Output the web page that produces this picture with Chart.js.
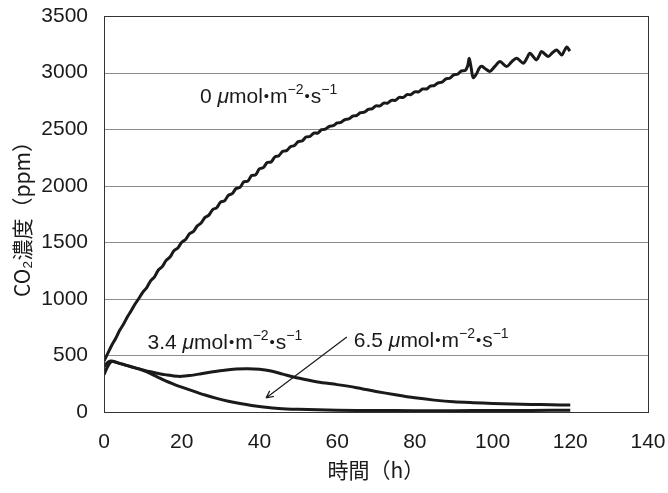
<!DOCTYPE html>
<html>
<head>
<meta charset="utf-8">
<script src="https://cdn.jsdelivr.net/npm/chart.js@4.4.1/dist/chart.umd.min.js"></script>
<style>
  body { margin: 0; background: #fff; }
</style>
</head>
<body>
<canvas id="co2Chart" width="668" height="493"></canvas>
<script>
// 📌 Series (time in h, CO2 in ppm)
const hours0 = [0,1,2,3,4,5,6,7,8,9,10,11,12,13,14,15,16,17,18,19,20,21,22,23,24,25,26,27,28,29,30,31,32,33,34,35,36,37,38,39,40,41,42,43,44,45,46,47,48,49,50,51,52,53,54,55,56,57,58,59,60,61,62,63,64,65,66,67,68,69,70,71,72,73,74,75,76,77,78,79,80,81,82,83,84,85,86,87,88,89,90,91,92,93,93.6,94,94.5,95,95.8,96.6,97.2,98.3,99.3,100.6,101.9,103.6,104.9,106.2,107.9,108.8,109.6,111.3,112,112.6,114.3,115.4,116.5,117.8,118.5,119.1,119.9];
const ppm0 = [450,520,590,650,720,775,840,895,955,1005,1060,1100,1160,1195,1255,1285,1340,1370,1425,1450,1500,1525,1575,1595,1645,1670,1720,1740,1790,1805,1855,1865,1915,1930,1975,1985,2035,2040,2090,2095,2150,2160,2205,2210,2255,2265,2305,2310,2345,2355,2390,2395,2430,2435,2465,2465,2495,2500,2525,2530,2555,2560,2585,2590,2615,2620,2645,2650,2675,2680,2705,2705,2730,2730,2755,2755,2780,2780,2805,2805,2830,2830,2855,2855,2880,2885,2910,2915,2945,2950,2980,2985,3015,3020,3060,3125,3040,2955,2985,3040,3055,3030,3010,3055,3098,3053,3095,3127,3083,3125,3171,3112,3150,3186,3142,3175,3200,3156,3195,3225,3190];

const hours34 = [0,1,2,4,6,8,10,12,14,16,18,20,22,25,28,31,34,37,40,43,46,50,55,60,65,70,75,80,85,90,95,100,105,110,115,120];
const ppm34 = [400,440,450,430,410,390,372,355,340,328,318,315,322,338,355,370,380,383,378,362,335,300,265,242,215,182,152,125,105,90,82,76,71,67,64,62];

const hours65 = [0,1,2,4,6,8,10,12,14,16,18,20,23,26,29,32,35,38,41,45,50,55,60,70,80,90,100,110,120];
const ppm65 = [330,405,445,430,410,390,368,340,305,272,245,220,185,150,120,95,75,58,45,32,24,19,16,13,12,12,13,14,15];

const xTicks = [0, 20, 40, 60, 80, 100, 120, 140];
const yTicks = [0, 500, 1000, 1500, 2000, 2500, 3000, 3500];

// 📌 Curve labels (light intensity) and the arrow for 6.5
const curveLabels = ["0", "3.4", "6.5"];
const labelAt = [[24.7, 2729], [11.2, 557], [64.3, 577]];
const arrowFrom = [62.5, 663];
const arrowTo = [41.7, 124];

const FONT = "'Liberation Sans', Arial, sans-serif";
const CJK = "'Noto Sans CJK JP', 'Liberation Sans', sans-serif";
const INK = "#1a1a1a";
const CLEAR = "rgba(0,0,0,0)";

function toPoints(xs, ys) {
  return xs.map((x, i) => ({ x: x, y: ys[i] }));
}

// ✅ Draw "μmol·m-2·s-1" with superscripts
function drawUnitLabel(ctx, x, y, lead) {
  const parts = [
    [lead + " ", "n"], ["μ", "i"], ["mol", "n"], ["•", "d"], ["m", "n"],
    ["−2", "s"], ["•", "d"], ["s", "n"], ["−1", "s"]
  ];
  ctx.save();
  ctx.fillStyle = INK;
  ctx.textBaseline = "alphabetic";
  ctx.textAlign = "left";
  let cx = x;
  parts.forEach(([txt, kind]) => {
    let dy = 0;
    if (kind === "s") { ctx.font = "14px " + FONT; dy = -9; }
    else if (kind === "i") ctx.font = "italic 21px " + FONT;
    else if (kind === "d") ctx.font = "15px " + FONT;
    else ctx.font = "21px " + FONT;
    if (kind === "d") { cx += 1; dy = -2; }
    ctx.fillText(txt, cx, y + dy);
    cx += ctx.measureText(txt).width + (kind === "d" ? 1 : 0);
  });
  ctx.restore();
}

// ✅ Plot box taken from the scales themselves (0..140 h, 0..3500 ppm)
function plotBox(x, y) {
  return {
    left: Math.round(x.getPixelForValue(xTicks[0])),
    right: Math.round(x.getPixelForValue(xTicks[xTicks.length - 1])),
    top: Math.round(y.getPixelForValue(yTicks[yTicks.length - 1])),
    bottom: Math.round(y.getPixelForValue(yTicks[0]))
  };
}

const annotationPlugin = {
  id: "annotations",
  beforeDatasetsDraw(chart) {
    const { ctx, scales: { x, y } } = chart;
    const box = plotBox(x, y);
    // horizontal grid lines
    ctx.save();
    ctx.strokeStyle = "#8c8c8c";
    ctx.lineWidth = 1;
    ctx.beginPath();
    yTicks.forEach(v => {
      const py = Math.round(y.getPixelForValue(v)) + 0.5;
      ctx.moveTo(box.left, py);
      ctx.lineTo(box.right, py);
    });
    ctx.stroke();
    ctx.restore();
  },
  afterDatasetsDraw(chart) {
    const { ctx, scales: { x, y } } = chart;
    const box = plotBox(x, y);

    // plot frame
    ctx.save();
    ctx.strokeStyle = "#333";
    ctx.lineWidth = 1;
    ctx.strokeRect(box.left + 0.5, box.top + 0.5, box.right - box.left, box.bottom - box.top);
    ctx.restore();

    curveLabels.forEach((lead, i) => {
      drawUnitLabel(ctx, x.getPixelForValue(labelAt[i][0]), y.getPixelForValue(labelAt[i][1]), lead);
    });

    // arrow
    const x1 = x.getPixelForValue(arrowFrom[0]), y1 = y.getPixelForValue(arrowFrom[1]);
    const x2 = x.getPixelForValue(arrowTo[0]), y2 = y.getPixelForValue(arrowTo[1]);
    const ang = Math.atan2(y2 - y1, x2 - x1);
    ctx.save();
    ctx.strokeStyle = INK;
    ctx.lineWidth = 1.2;
    ctx.beginPath();
    ctx.moveTo(x1, y1);
    ctx.lineTo(x2, y2);
    [0.45, -0.45].forEach(a => {
      ctx.moveTo(x2, y2);
      ctx.lineTo(x2 - 8 * Math.cos(ang + a), y2 - 8 * Math.sin(ang + a));
    });
    ctx.stroke();
    ctx.restore();
  }
};

const lineStyle = {
  borderColor: INK,
  borderWidth: 3,
  pointRadius: 0,
  tension: 0.3,
  fill: false
};

const ctx = document.getElementById("co2Chart").getContext("2d");
new Chart(ctx, {
  type: "line",
  data: {
    datasets: [
      Object.assign({ label: "0", data: toPoints(hours0, ppm0) }, lineStyle),
      Object.assign({ label: "3.4", data: toPoints(hours34, ppm34) }, lineStyle),
      Object.assign({ label: "6.5", data: toPoints(hours65, ppm65) }, lineStyle)
    ]
  },
  options: {
    responsive: false,
    animation: false,
    layout: { padding: 0 },
    plugins: {
      legend: { display: false },
      tooltip: { enabled: false }
    },
    scales: {
      x: {
        type: "linear",
        min: 0,
        max: 140,
        afterBuildTicks: axis => { axis.ticks = xTicks.map(v => ({ value: v })); },
        afterFit: axis => { axis.height = 81; },
        grid: { display: false, drawTicks: true, tickLength: 15.5, tickColor: CLEAR },
        border: { display: false },
        ticks: { color: INK, padding: 2.5, font: { family: FONT, size: 21 }, callback: v => String(v) },
        title: {
          display: true,
          text: "時間（h）",
          color: INK,
          padding: { top: 0, bottom: 10 },
          font: { family: CJK, size: 21 }
        }
      },
      y: {
        min: 0,
        max: 3500,
        afterBuildTicks: axis => { axis.ticks = yTicks.map(v => ({ value: v })); },
        afterFit: axis => { axis.width = 104; },
        grid: { display: false, drawTicks: true, tickLength: 12.6, tickColor: CLEAR },
        border: { display: false },
        ticks: { color: INK, padding: 3.4, font: { family: FONT, size: 21 }, callback: v => String(v) },
        title: {
          display: true,
          text: "CO₂濃度（ppm）",
          color: INK,
          padding: { top: 9, bottom: 0 },
          font: { family: CJK, size: 21 }
        }
      }
    }
  },
  plugins: [annotationPlugin]
});
</script>
</body>
</html>
